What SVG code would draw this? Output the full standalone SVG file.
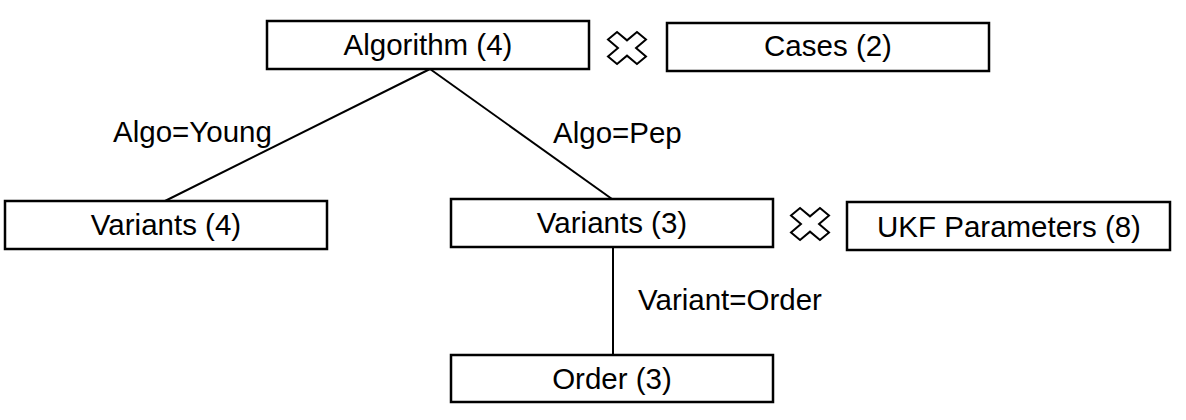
<svg xmlns="http://www.w3.org/2000/svg" xmlns:xlink="http://www.w3.org/1999/xlink" width="1186" height="420" viewBox="0 0 1186 420">
<style>
.box{fill:#fff;stroke:#000;stroke-width:2.5}
.t{font-family:"Liberation Sans",Arial,sans-serif;font-size:29.5px;fill:#000}
.c{text-anchor:middle}
.edge{stroke:#000;stroke-width:2;fill:none}
.x{fill:#fff;stroke:#000;stroke-width:2;stroke-linejoin:miter}
</style>
<defs>
<polygon id="cross" class="x" points="9.96,-16.04 19,-8.4 9.05,0 19,8.4 9.96,16.04 0,7.64 -9.96,16.04 -19,8.4 -9.05,0 -19,-8.4 -9.96,-16.04 0,-7.64"/>
</defs>
<rect width="1186" height="420" fill="#fff"/>
<g id="connectors">
<line class="edge" x1="430" y1="69" x2="165" y2="201"/>
<line class="edge" x1="430" y1="69" x2="612" y2="199"/>
<line class="edge" x1="613" y1="247" x2="613" y2="355"/>
<text class="t" x="113" y="142">Algo=Young</text>
<text class="t" x="553" y="143">Algo=Pep</text>
<text class="t" x="638" y="310">Variant=Order</text>
</g>
<g id="algorithm">
<rect class="box" x="267" y="21" width="322" height="48"/>
<text class="t c" x="428" y="55">Algorithm (4)</text>
</g>
<g id="cross1"><use xlink:href="#cross" href="#cross" transform="translate(627,48)"/></g>
<g id="cases">
<rect class="box" x="667" y="23" width="322" height="48"/>
<text class="t c" x="828" y="56">Cases (2)</text>
</g>
<g id="variants4">
<rect class="box" x="5" y="201" width="322" height="48"/>
<text class="t c" x="166" y="235">Variants (4)</text>
</g>
<g id="variants3">
<rect class="box" x="451" y="199" width="322" height="48"/>
<text class="t c" x="612" y="233">Variants (3)</text>
</g>
<g id="cross2"><use xlink:href="#cross" href="#cross" transform="translate(810,224)"/></g>
<g id="ukf">
<rect class="box" x="847" y="202" width="323" height="48"/>
<text class="t c" x="1009" y="237">UKF Parameters (8)</text>
</g>
<g id="order">
<rect class="box" x="451" y="355" width="322" height="47"/>
<text class="t c" x="612" y="389">Order (3)</text>
</g>
</svg>
